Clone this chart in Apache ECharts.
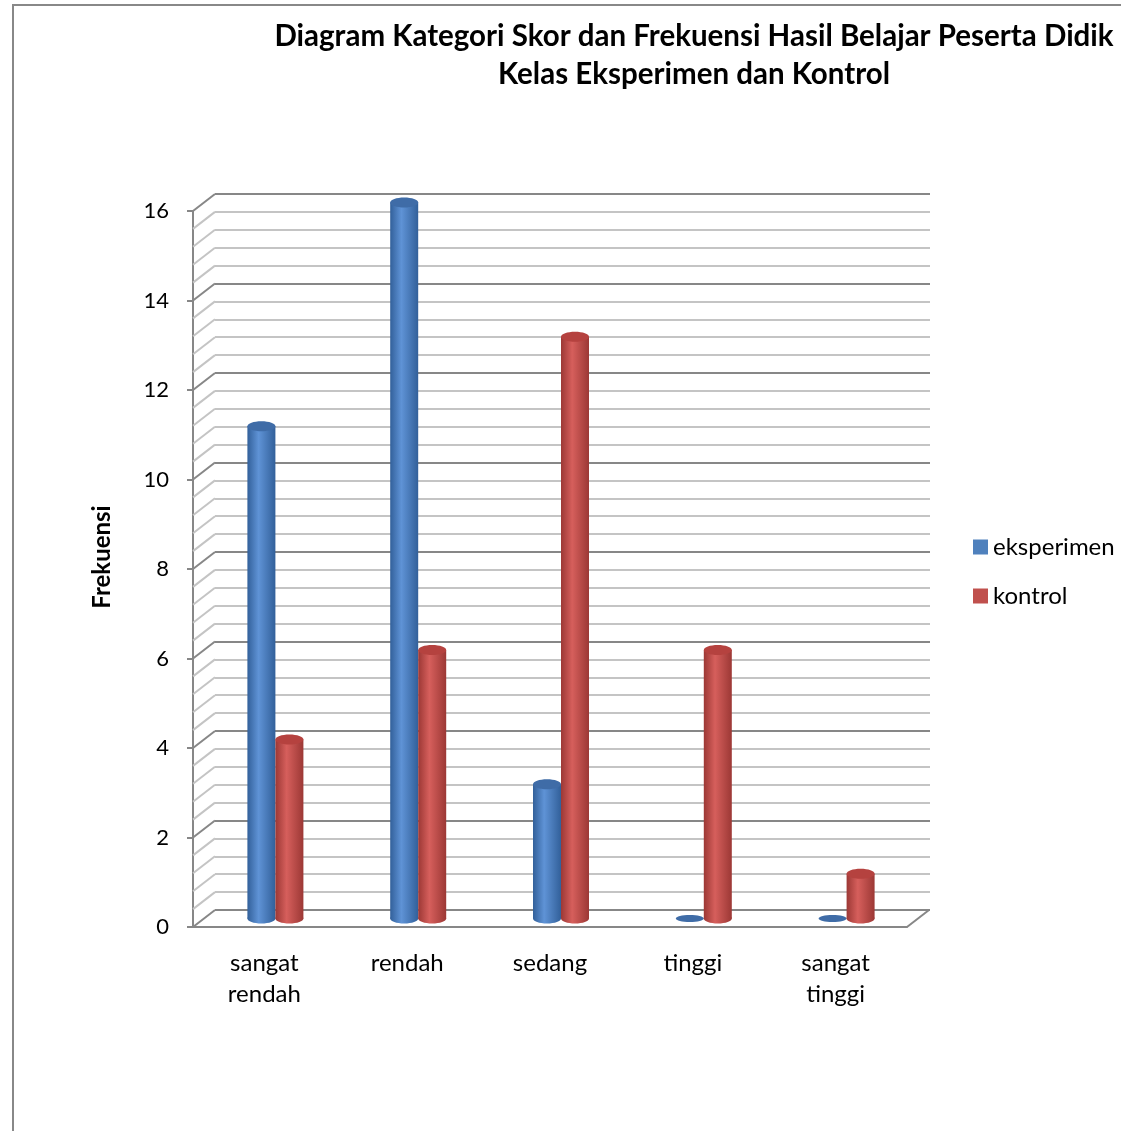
<!DOCTYPE html>
<html>
<head>
<meta charset="utf-8">
<script src="https://cdn.jsdelivr.net/npm/echarts@6/dist/echarts.min.js"></script>
<style>
  html, body { margin: 0; padding: 0; background: #fff; }
  #chart { width: 1121px; height: 1131px; }
</style>
</head>
<body>
<div id="chart"></div>
<script>
// Categories and frequencies per class
const categories = ['sangat\nrendah', 'rendah', 'sedang', 'tinggi', 'sangat\ntinggi'];
const eksperimen = [11, 16, 3, 0, 0];
const kontrol = [4, 6, 13, 6, 1];
const yTicks = [0, 2, 4, 6, 8, 10, 12, 14, 16];

const FONT = 'Lato, "Open Sans", sans-serif';
const DEPTH_X = 22, DEPTH_Y = -17;   // offset of the back wall from the front plane
const MINOR_PER_MAJOR = 5;

const palette = {
  eksperimen: { base: '#4F81BD', dark: '#32609a', light: '#5f93d6', top: '#3f6ca7' },
  kontrol:    { base: '#C0504D', dark: '#9c3835', light: '#d65f5c', top: '#b5423f' }
};

function cylinderRenderer(key, shift) {
  const c = palette[key];
  return function (params, api) {
    const i = api.value(0), v = api.value(1);
    const base = api.coord([i, 0]);
    const top = api.coord([i, v]);
    const cx = base[0] + shift + DEPTH_X / 2;
    const by = base[1] + DEPTH_Y / 2;
    const ty = top[1] + DEPTH_Y / 2;
    const rx = 14, ry = 5;
    const grad = new echarts.graphic.LinearGradient(0, 0, 1, 0, [
      { offset: 0, color: c.dark },
      { offset: 0.4, color: c.light },
      { offset: 1, color: c.dark }
    ]);
    if (v === 0) {
      return {
        type: 'ellipse',
        shape: { cx: cx, cy: by, rx: rx, ry: 3.5 },
        style: { fill: c.top }
      };
    }
    return {
      type: 'group',
      children: [
        { type: 'ellipse', shape: { cx: cx, cy: by, rx: rx, ry: ry }, style: { fill: grad } },
        { type: 'rect', shape: { x: cx - rx, y: ty, width: rx * 2, height: by - ty }, style: { fill: grad } },
        { type: 'ellipse', shape: { cx: cx, cy: ty, rx: rx, ry: ry }, style: { fill: c.top } }
      ]
    };
  };
}

// side wall and floor edges joining the front plane to the back wall
function wallRenderer(params, api) {
  const cs = params.coordSys;
  const children = [];
  const maxV = yTicks[yTicks.length - 1];
  const step = (yTicks[1] - yTicks[0]) / MINOR_PER_MAJOR;
  const n = Math.round(maxV / step);
  for (let k = 0; k <= n; k++) {
    const v = k * step;
    const p = api.coord([0, v]);
    const major = k % MINOR_PER_MAJOR === 0;
    children.push({
      type: 'line',
      shape: { x1: cs.x, y1: p[1], x2: cs.x + DEPTH_X, y2: p[1] + DEPTH_Y },
      style: { stroke: major ? '#878787' : '#c4c4c4', lineWidth: 2 }
    });
  }
  const yb = cs.y + cs.height;
  children.push({
    type: 'line',
    shape: { x1: cs.x + cs.width, y1: yb, x2: cs.x + cs.width + DEPTH_X, y2: yb + DEPTH_Y },
    style: { stroke: '#878787', lineWidth: 2 }
  });
  return { type: 'group', children: children };
}

const chart = echarts.init(document.getElementById('chart'));
chart.setOption({
  backgroundColor: '#fff',
  animation: false,
  title: {
    text: 'Diagram Kategori Skor dan Frekuensi Hasil Belajar Peserta Didik\nKelas Eksperimen dan Kontrol',
    left: 689,
    top: 12,
    textAlign: 'center',
    textStyle: { fontFamily: FONT, fontSize: 29.5, fontWeight: 'bold', color: '#000', lineHeight: 38 }
  },
  legend: {
    orient: 'vertical',
    left: 968,
    top: 530,
    itemWidth: 15,
    itemHeight: 15,
    itemGap: 25,
    icon: 'rect',
    textStyle: { fontFamily: FONT, fontSize: 24, color: '#000', padding: [0, 0, 0, 0] },
    data: ['eksperimen', 'kontrol']
  },
  graphic: [{
    type: 'rect',
    shape: { x: 13, y: 5, width: 1300, height: 1300 },
    style: { fill: 'none', stroke: '#888', lineWidth: 2 },
    silent: true
  }],
  grid: [
    { left: 215, top: 194, width: 715, height: 716, outerBoundsMode: 'none' },
    { left: 193, top: 211, width: 714, height: 716, outerBoundsMode: 'none' }
  ],
  xAxis: [
    { gridIndex: 0, type: 'category', data: categories, show: false },
    {
      gridIndex: 1, type: 'category', data: categories,
      axisLine: { show: true, lineStyle: { color: '#878787', width: 2 } },
      axisTick: { show: false },
      axisLabel: { margin: 21, fontFamily: FONT, fontSize: 24, color: '#000', lineHeight: 31, interval: 0 }
    }
  ],
  yAxis: [
    {
      gridIndex: 0, type: 'value', min: 0, max: 16, interval: 2,
      axisLine: { show: false }, axisTick: { show: false }, axisLabel: { show: false },
      splitLine: { show: true, lineStyle: { color: '#878787', width: 2 } },
      minorTick: { show: false, splitNumber: MINOR_PER_MAJOR },
      minorSplitLine: { show: true, lineStyle: { color: '#c4c4c4', width: 2 } }
    },
    {
      gridIndex: 1, type: 'value', min: 0, max: 16, interval: 2,
      name: 'Frekuensi', nameLocation: 'middle', nameGap: 79, nameRotate: 90,
      nameTextStyle: { fontFamily: FONT, fontSize: 24, fontWeight: 'bold', color: '#000', padding: [0, 0, 0, 24] },
      axisLine: { show: true, lineStyle: { color: '#878787', width: 2 } },
      axisTick: { show: true, length: 6, lineStyle: { color: '#878787', width: 2 } },
      axisLabel: { margin: 24, fontFamily: FONT, fontSize: 22, color: '#000' },
      splitLine: { show: false }
    }
  ],
  series: [
    {
      type: 'custom', name: 'walls', xAxisIndex: 1, yAxisIndex: 1,
      data: [[0, 0]], renderItem: wallRenderer, silent: true, z: 1
    },
    {
      type: 'custom', name: 'eksperimen', xAxisIndex: 1, yAxisIndex: 1,
      itemStyle: { color: palette.eksperimen.base },
      encode: { x: 0, y: 1 },
      data: eksperimen.map((v, i) => [i, v]),
      renderItem: cylinderRenderer('eksperimen', -14), clip: false, z: 3
    },
    {
      type: 'custom', name: 'kontrol', xAxisIndex: 1, yAxisIndex: 1,
      itemStyle: { color: palette.kontrol.base },
      encode: { x: 0, y: 1 },
      data: kontrol.map((v, i) => [i, v]),
      renderItem: cylinderRenderer('kontrol', 14), clip: false, z: 4
    }
  ]
});
</script>
</body>
</html>
